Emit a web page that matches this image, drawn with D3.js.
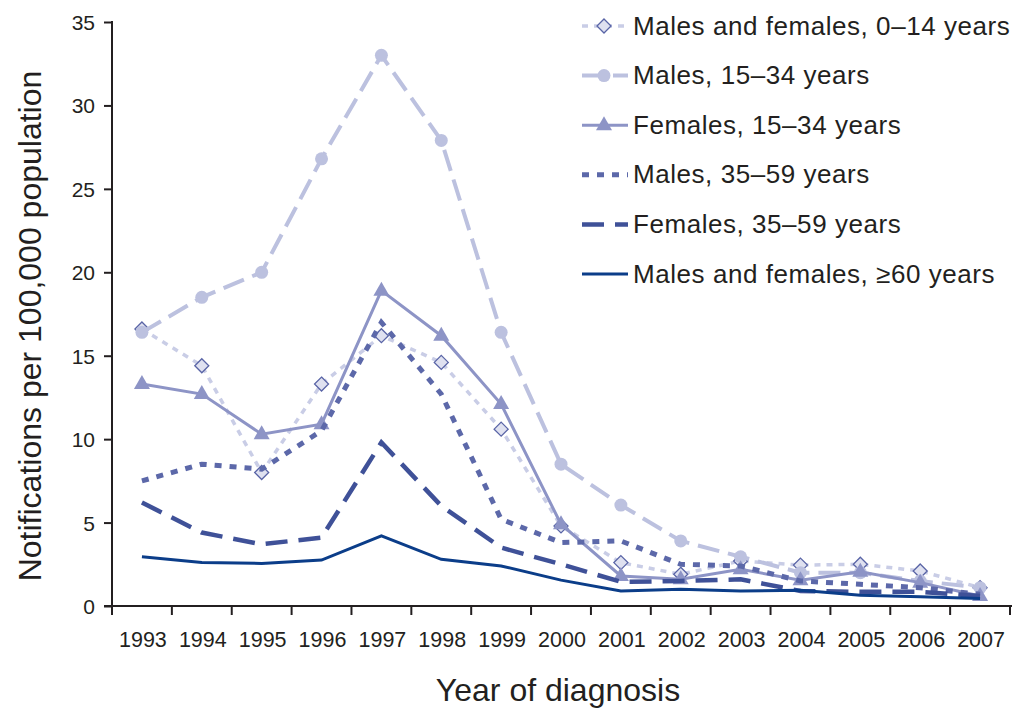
<!DOCTYPE html>
<html>
<head>
<meta charset="utf-8">
<script src="https://cdn.jsdelivr.net/npm/d3@7"></script>
<style>
	body { margin: 0; background: #fff; }
	svg { display: block; font-family: "Liberation Sans", Arial, sans-serif; }
	.axis path, .axis line { stroke: #231f20; }
	.axis text { fill: #231f20; }
</style>
</head>
<body>
<div id="chart"></div>
<script>
const years = [1993, 1994, 1995, 1996, 1997, 1998, 1999, 2000, 2001, 2002, 2003, 2004, 2005, 2006, 2007]
const yTicks = [0, 5, 10, 15, 20, 25, 30, 35]

const labels = [
	'Males and females, 0–14 years',
	'Males, 15–34 years',
	'Females, 15–34 years',
	'Males, 35–59 years',
	'Females, 35–59 years',
	'Males and females, ≥60 years'
]

const mf0to14  = [16.6, 14.4, 8.0, 13.3, 16.2, 14.6, 10.6, 4.8, 2.6, 1.9, 2.7, 2.45, 2.5, 2.1, 1.1]
const m15to34  = [16.4, 18.5, 20.0, 26.8, 33.0, 27.9, 16.4, 8.5, 6.05, 3.9, 2.95, 2.0, 2.0, 1.5, 1.1]
const f15to34  = [13.3, 12.7, 10.3, 10.9, 18.9, 16.2, 12.1, 4.9, 1.8, 1.6, 2.2, 1.55, 2.05, 1.4, 0.6]
const m35to59  = [7.5, 8.5, 8.2, 10.5, 17.0, 12.7, 5.2, 3.8, 3.9, 2.5, 2.4, 1.5, 1.3, 1.1, 0.7]
const f35to59  = [6.2, 4.4, 3.7, 4.1, 9.8, 6.0, 3.5, 2.5, 1.45, 1.5, 1.6, 0.9, 0.85, 0.85, 0.6]
const mf60plus = [2.95, 2.6, 2.55, 2.75, 4.2, 2.8, 2.4, 1.55, 0.9, 1.0, 0.9, 0.95, 0.65, 0.55, 0.45]

const series = [
	{ label: labels[0], values: mf0to14,  color: '#c9cde6', width: 3.5, dash: '6,6',   marker: 'diamond' },
	{ label: labels[1], values: m15to34,  color: '#bcc1df', width: 4,   dash: '22,9',  marker: 'circle' },
	{ label: labels[2], values: f15to34,  color: '#8d94c6', width: 3,   dash: null,    marker: 'triangle' },
	{ label: labels[3], values: m35to59,  color: '#5c68a9', width: 5,   dash: '7,8',   marker: null },
	{ label: labels[4], values: f35to59,  color: '#3f5198', width: 4.5, dash: '22,11', marker: null },
	{ label: labels[5], values: mf60plus, color: '#0b3d89', width: 3,   dash: null,    marker: null }
]

const W = 1012, H = 709
const svg = d3.select('#chart').append('svg')
	.attr('width', W)
	.attr('height', H)

const x = d3.scaleBand()
	.domain(years)
	.range([112, 1010])

const y = d3.scaleLinear()
	.domain([0, 35])
	.range([606, 22])

// Axes

const xAxis = svg.append('g')
	.attr('class', 'axis')
	.attr('transform', 'translate(0,606)')

xAxis.append('line')
	.attr('x1', 104).attr('x2', 1022)
	.attr('stroke-width', 2)

xAxis.selectAll('line.tick')
	.data(years.concat([null]))
	.enter()
	.append('line')
	.attr('class', 'tick')
	.attr('x1', (d, i) => 112 + i * x.bandwidth())
	.attr('x2', (d, i) => 112 + i * x.bandwidth())
	.attr('y1', 0).attr('y2', 9)
	.attr('stroke-width', 2)

xAxis.selectAll('text')
	.data(years)
	.enter()
	.append('text')
	.attr('x', d => x(d) + x.bandwidth() / 2 + 1)
	.attr('y', 41)
	.attr('text-anchor', 'middle')
	.attr('font-size', 21.5)
	.text(d => d)

const yAxis = svg.append('g')
	.attr('class', 'axis')
	.attr('transform', 'translate(112,0)')
	.call(d3.axisLeft(y).tickValues(yTicks).tickSize(8).tickPadding(9))

yAxis.select('.domain').attr('d', `M0,${y(35) - 1}V${y(0)}`).attr('stroke-width', 2)
yAxis.selectAll('.tick line').attr('stroke-width', 2)
yAxis.selectAll('.tick text')
	.attr('font-size', 21)
	.attr('dy', '0.36em')
	.attr('font-family', '"Liberation Sans", Arial, sans-serif')

svg.append('text')
	.attr('transform', `translate(41,${(y(0) + y(35)) / 2 + 12}) rotate(-90)`)
	.attr('text-anchor', 'middle')
	.attr('font-size', 32)
	.attr('fill', '#231f20')
	.text('Notifications per 100,000 population')

svg.append('text')
	.attr('x', 558)
	.attr('y', 701)
	.attr('text-anchor', 'middle')
	.attr('font-size', 32)
	.attr('fill', '#231f20')
	.text('Year of diagnosis')

// Lines and markers

const line = d3.line()
	.x((d, i) => x(years[i]) + x.bandwidth() / 2)
	.y(d => y(d))

function drawMarker(g, s, cx, cy) {
	if (s.marker === 'diamond') {
		g.append('path')
			.attr('d', `M${cx},${cy - 7}L${cx + 7},${cy}L${cx},${cy + 7}L${cx - 7},${cy}Z`)
			.attr('fill', '#dfe1f0')
			.attr('stroke', '#5964a6')
			.attr('stroke-width', 1.3)
	} else if (s.marker === 'circle') {
		g.append('circle')
			.attr('cx', cx).attr('cy', cy).attr('r', 6.5)
			.attr('fill', s.color)
	} else if (s.marker === 'triangle') {
		g.append('path')
			.attr('d', `M${cx},${cy - 9}L${cx + 8},${cy + 5}L${cx - 8},${cy + 5}Z`)
			.attr('fill', s.color)
	}
}

const plot = svg.append('g')

series.forEach(s => {
	const g = plot.append('g')
	g.append('path')
		.attr('d', line(s.values))
		.attr('fill', 'none')
		.attr('stroke', s.color)
		.attr('stroke-width', s.width)
		.attr('stroke-dasharray', s.dash)
	if (s.marker) {
		s.values.forEach((v, i) => drawMarker(g, s, x(years[i]) + x.bandwidth() / 2, y(v)))
	}
})

// Legend

const legend = svg.append('g')
series.forEach((s, i) => {
	const ly = 26 + i * 49.6
	const g = legend.append('g')
	g.append('line')
		.attr('x1', 582).attr('x2', 628)
		.attr('y1', ly).attr('y2', ly)
		.attr('stroke', s.color)
		.attr('stroke-width', s.width)
		.attr('stroke-dasharray', s.dash)
	if (s.marker) drawMarker(g, s, 604, ly)
	g.append('text')
		.attr('x', 633)
		.attr('y', ly + 8.5)
		.attr('font-size', 26)
		.attr('letter-spacing', 0.55)
		.attr('fill', '#231f20')
		.text(s.label)
})
</script>
</body>
</html>
